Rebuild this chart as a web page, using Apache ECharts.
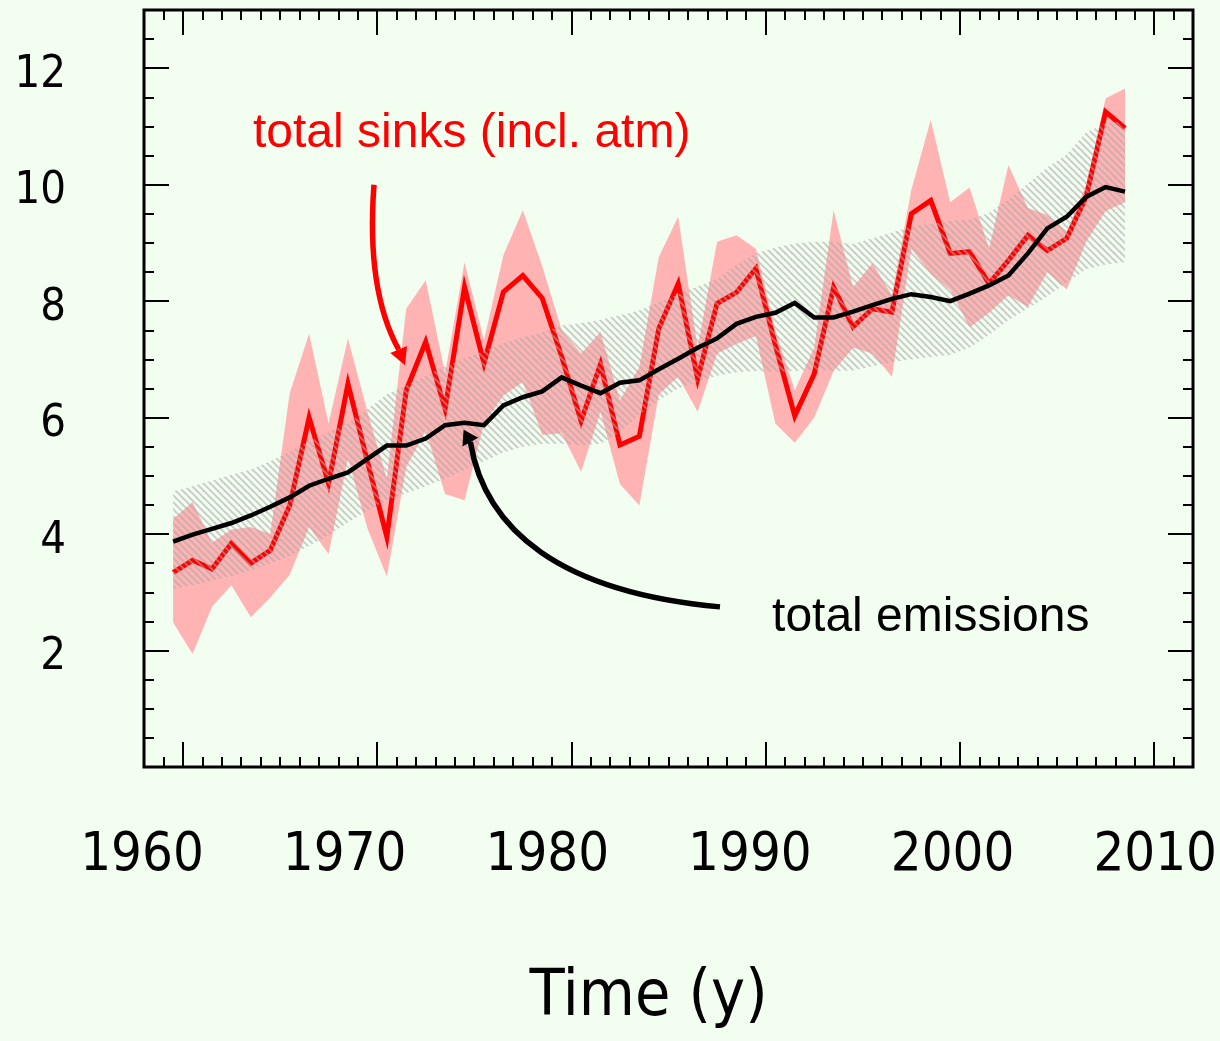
<!DOCTYPE html>
<html>
<head>
<meta charset="utf-8">
<script src="https://cdn.jsdelivr.net/npm/echarts@6/dist/echarts.min.js"></script>
<style>
  html, body { margin: 0; padding: 0; background: #f2fef0; }
  #chart { width: 1220px; height: 1041px; }
</style>
</head>
<body>
<div id="chart"></div>
<script>
// Annual values, 1959-2008 (GtC per year); points sit at mid-year.
const years = [
  1959, 1960, 1961, 1962, 1963, 1964, 1965, 1966, 1967, 1968,
  1969, 1970, 1971, 1972, 1973, 1974, 1975, 1976, 1977, 1978,
  1979, 1980, 1981, 1982, 1983, 1984, 1985, 1986, 1987, 1988,
  1989, 1990, 1991, 1992, 1993, 1994, 1995, 1996, 1997, 1998,
  1999, 2000, 2001, 2002, 2003, 2004, 2005, 2006, 2007, 2008
];

// Total emissions (fossil + land use)
const emissions = [
  3.87, 3.99, 4.09, 4.19, 4.32, 4.47, 4.63, 4.83, 4.95, 5.06,
  5.29, 5.52, 5.52, 5.64, 5.87, 5.91, 5.87, 6.21, 6.35, 6.45,
  6.69, 6.55, 6.42, 6.60, 6.64, 6.83, 7.01, 7.20, 7.36, 7.61,
  7.73, 7.80, 7.97, 7.72, 7.72, 7.82, 7.93, 8.04, 8.12, 8.07,
  8.00, 8.13, 8.27, 8.44, 8.82, 9.25, 9.45, 9.79, 9.96, 9.88
];

// Total sinks including the atmospheric growth
const sinks = [
  3.34, 3.55, 3.40, 3.84, 3.50, 3.72, 4.49, 6.00, 4.87, 6.58,
  5.25, 3.95, 6.47, 7.30, 6.15, 8.24, 6.93, 8.16, 8.44, 8.05,
  7.05, 5.94, 6.92, 5.53, 5.68, 7.53, 8.30, 6.67, 7.96, 8.15,
  8.56, 7.25, 6.03, 6.75, 8.24, 7.56, 7.87, 7.81, 9.50, 9.73,
  8.82, 8.85, 8.30, 8.70, 9.13, 8.87, 9.08, 9.79, 11.25, 10.97
];

// Uncertainty envelope of the sinks
const sinksHigh = [
  4.26, 4.55, 3.85, 4.08, 4.12, 4.00, 6.42, 7.44, 5.90, 7.36,
  6.10, 4.95, 7.87, 8.36, 6.76, 8.67, 7.33, 8.79, 9.56, 8.60,
  7.50, 7.10, 7.47, 6.30, 6.87, 8.76, 9.45, 7.20, 9.02, 9.13,
  8.90, 7.50, 6.47, 7.20, 9.56, 8.24, 8.65, 8.10, 9.91, 11.11,
  9.70, 9.95, 8.90, 10.34, 9.60, 9.48, 9.20, 10.00, 11.48, 11.65
];
const sinksLow = [
  2.48, 1.94, 2.75, 3.12, 2.57, 2.91, 3.30, 4.12, 3.66, 5.30,
  4.10, 3.27, 5.15, 5.78, 4.69, 4.58, 5.90, 6.38, 6.61, 5.70,
  5.73, 5.07, 6.10, 4.86, 4.49, 6.40, 6.70, 6.10, 7.10, 7.27,
  7.40, 5.90, 5.57, 6.00, 6.80, 7.20, 7.10, 6.70, 8.90, 8.47,
  8.19, 7.55, 7.80, 8.10, 7.90, 8.50, 8.20, 9.02, 9.55, 9.70
];

// Uncertainty range of the emissions (hatched)
const emisHigh = [
  4.73, 4.82, 4.92, 5.02, 5.11, 5.25, 5.42, 5.60, 5.75, 5.90,
  6.15, 6.40, 6.55, 6.72, 6.88, 7.02, 7.15, 7.28, 7.38, 7.46,
  7.58, 7.62, 7.68, 7.76, 7.84, 7.98, 8.12, 8.25, 8.38, 8.62,
  8.82, 8.92, 8.99, 9.02, 9.02, 8.98, 9.08, 9.18, 9.28, 9.33,
  9.38, 9.40, 9.52, 9.75, 10.02, 10.30, 10.52, 10.90, 11.05, 11.10
];
const emisLow = [
  3.06, 3.12, 3.20, 3.28, 3.38, 3.50, 3.62, 3.80, 3.98, 4.20,
  4.40, 4.58, 4.70, 4.82, 4.95, 5.10, 5.25, 5.40, 5.50, 5.55,
  5.55, 5.52, 5.55, 5.75, 6.05, 6.30, 6.50, 6.62, 6.72, 6.78,
  6.80, 6.78, 6.80, 6.82, 6.80, 6.81, 6.88, 6.95, 7.00, 7.04,
  7.08, 7.20, 7.42, 7.67, 7.88, 8.08, 8.32, 8.55, 8.63, 8.67
];

// Tick labels
const xTickLabels = [1960, 1970, 1980, 1990, 2000, 2010];
const yTickLabels = [2, 4, 6, 8, 10, 12];

// Annotations, in data coordinates [year, value]
const sinkLabel = { text: 'total sinks (incl. atm)', at: [1963.61, 10.88], color: '#ff0000' };
const emisLabel = { text: 'total emissions', at: [1990.33, 2.57], color: '#000000' };
const sinkArrow = { from: [1969.84, 10.0], ctrl: [1969.43, 8.19], to: [1971.11, 7.17], tip: [1971.44, 6.90], color: '#ff0000' };
const emisArrow = { from: [1987.65, 2.75], c1: [1979.41, 3.0], c2: [1975.55, 4.07], to: [1974.80, 5.58], tip: [1974.45, 5.79], color: '#000000' };

const NUM_FONT = "'Comic Sans MS', 'DejaVu Sans Condensed', 'DejaVu Sans', sans-serif";
const TXT_FONT = "'Liberation Sans', Arial, Helvetica, sans-serif";

const mid = y => y + 0.5;

// Light diagonal hatching, drawn with transparent gaps
function hatchPattern() {
  const s = 7;
  const c = document.createElement('canvas');
  c.width = s; c.height = s;
  const g = c.getContext('2d');
  g.strokeStyle = 'rgba(168,168,168,0.6)';
  g.lineWidth = 1.8;
  for (let k = -1; k <= 1; k++) {
    g.beginPath();
    g.moveTo(k * s - 1, -1);
    g.lineTo(k * s + s + 1, s + 1);
    g.stroke();
  }
  return c;
}

function bandSeries(name, low, high, fill, z) {
  return {
    type: 'custom',
    name: name,
    z: z,
    silent: true,
    xAxisIndex: 0,
    yAxisIndex: 0,
    data: years.map((y, i) => [mid(y), low[i], high[i]]),
    encode: { x: 0, y: [1, 2] },
    renderItem: function (params, api) {
      if (params.dataIndex !== 0) return;
      const top = [], bot = [];
      for (let i = 0; i < years.length; i++) {
        top.push(api.coord([mid(years[i]), high[i]]));
        bot.push(api.coord([mid(years[i]), low[i]]));
      }
      return {
        type: 'polygon',
        shape: { points: top.concat(bot.reverse()) },
        style: { fill: fill, stroke: null }
      };
    }
  };
}

const tickStyle = { color: '#000', width: 2 };
const noLine = { show: false, onZero: false };
const noSplit = { show: false };
const noLabel = { show: false };

function frameX(position, length, extra) {
  return Object.assign({
    type: 'value', gridIndex: 0, position: position,
    min: 1958, max: 2012,
    axisLine: noLine, splitLine: noSplit, axisLabel: noLabel,
    axisTick: { inside: true, length: length, lineStyle: tickStyle }
  }, extra || {});
}
function frameY(position, length, interval) {
  return {
    type: 'value', gridIndex: 0, position: position,
    min: 0, max: 13, interval: interval,
    axisLine: noLine, splitLine: noSplit, axisLabel: noLabel,
    axisTick: { inside: true, length: length, lineStyle: tickStyle }
  };
}

const chart = echarts.init(document.getElementById('chart'), null, { renderer: 'canvas' });

const option = {
  backgroundColor: '#f2fef0',
  animation: false,
  grid: [
    { left: 144, right: 27, top: 10, bottom: 274, show: true,
      borderColor: '#000', borderWidth: 3, backgroundColor: 'transparent' },
    { left: 142, right: 64, top: 17, bottom: 267, show: false }
  ],
  xAxis: [
    frameX('bottom', 10, { interval: 1 }),
    frameX('bottom', 25, { axisTick: { inside: true, length: 25, lineStyle: tickStyle, customValues: xTickLabels } }),
    frameX('top', 10, { interval: 1 }),
    frameX('top', 25, { axisTick: { inside: true, length: 25, lineStyle: tickStyle, customValues: xTickLabels } }),
    {
      type: 'value', gridIndex: 1, position: 'bottom',
      min: 1960, max: 2010, interval: 10,
      axisLine: noLine, splitLine: noSplit, axisTick: { show: false },
      axisLabel: { margin: 82, verticalAlign: 'middle', fontSize: 54, fontFamily: NUM_FONT, color: '#000',
                   formatter: v => (xTickLabels.indexOf(v) >= 0 ? String(v) : '') },
      name: 'Time (y)', nameLocation: 'middle', nameGap: 224,
      nameTextStyle: { fontSize: 64, fontFamily: NUM_FONT, color: '#000', verticalAlign: 'middle' }
    }
  ],
  yAxis: [
    frameY('left', 10, 0.5),
    frameY('left', 25, 2),
    frameY('right', 10, 0.5),
    frameY('right', 25, 2),
    {
      type: 'value', gridIndex: 1, position: 'left',
      min: 0, max: 13, interval: 2,
      axisLine: noLine, splitLine: noSplit, axisTick: { show: false },
      axisLabel: { margin: 76, fontSize: 45, fontFamily: NUM_FONT, color: '#000', align: 'right', verticalAlign: 'middle',
                   formatter: v => (yTickLabels.indexOf(v) >= 0 ? String(v) : '') }
    }
  ],
  series: [
    bandSeries('sinks range', sinksLow, sinksHigh, '#ffb3b3', 1),
    {
      type: 'line', name: 'total sinks', z: 2,
      xAxisIndex: 0, yAxisIndex: 0,
      data: years.map((y, i) => [mid(y), sinks[i]]),
      symbol: 'none', silent: true,
      lineStyle: { color: '#ff0000', width: 5, join: 'miter' }
    },
    bandSeries('emissions range', emisLow, emisHigh, { image: hatchPattern(), repeat: 'repeat' }, 3),
    {
      type: 'line', name: 'total emissions', z: 4,
      xAxisIndex: 0, yAxisIndex: 0,
      data: years.map((y, i) => [mid(y), emissions[i]]),
      symbol: 'none', silent: true,
      lineStyle: { color: '#000000', width: 4.5, join: 'miter' }
    }
  ]
};

chart.setOption(option);

// Annotation arrows and captions, placed through the grid's own scales
const px = p => chart.convertToPixel({ xAxisIndex: 0, yAxisIndex: 0 }, p);

function arrowHead(base, tip, halfWidth, color) {
  const b = px(base), t = px(tip);
  const dx = t[0] - b[0], dy = t[1] - b[1];
  const len = Math.hypot(dx, dy) || 1;
  const nx = -dy / len, ny = dx / len;
  return {
    type: 'polygon',
    shape: { points: [t, [b[0] + nx * halfWidth, b[1] + ny * halfWidth], [b[0] - nx * halfWidth, b[1] - ny * halfWidth]] },
    style: { fill: color },
    z: 100
  };
}

const s0 = px(sinkArrow.from), sc = px(sinkArrow.ctrl), s1 = px(sinkArrow.to);
const e0 = px(emisArrow.from), ec1 = px(emisArrow.c1), ec2 = px(emisArrow.c2), e1 = px(emisArrow.to);
const sl = px(sinkLabel.at), el = px(emisLabel.at);

chart.setOption({
  graphic: [
    {
      type: 'bezierCurve', z: 100,
      shape: { x1: s0[0], y1: s0[1], cpx1: sc[0], cpy1: sc[1], x2: s1[0], y2: s1[1] },
      style: { fill: 'none', stroke: sinkArrow.color, lineWidth: 5.5 }
    },
    arrowHead(sinkArrow.to, sinkArrow.tip, 9, sinkArrow.color),
    {
      type: 'bezierCurve', z: 100,
      shape: { x1: e0[0], y1: e0[1], cpx1: ec1[0], cpy1: ec1[1], cpx2: ec2[0], cpy2: ec2[1], x2: e1[0], y2: e1[1] },
      style: { fill: 'none', stroke: emisArrow.color, lineWidth: 5.5 }
    },
    arrowHead(emisArrow.to, emisArrow.tip, 9, emisArrow.color),
    {
      type: 'text', z: 100, x: sl[0], y: sl[1],
      style: { text: sinkLabel.text, fill: sinkLabel.color, font: `48px ${TXT_FONT}`,
               textAlign: 'left', textVerticalAlign: 'middle', align: 'left', verticalAlign: 'middle' }
    },
    {
      type: 'text', z: 100, x: el[0], y: el[1],
      style: { text: emisLabel.text, fill: emisLabel.color, font: `48px ${TXT_FONT}`,
               textAlign: 'left', textVerticalAlign: 'middle', align: 'left', verticalAlign: 'middle' }
    }
  ]
});
</script>
</body>
</html>
